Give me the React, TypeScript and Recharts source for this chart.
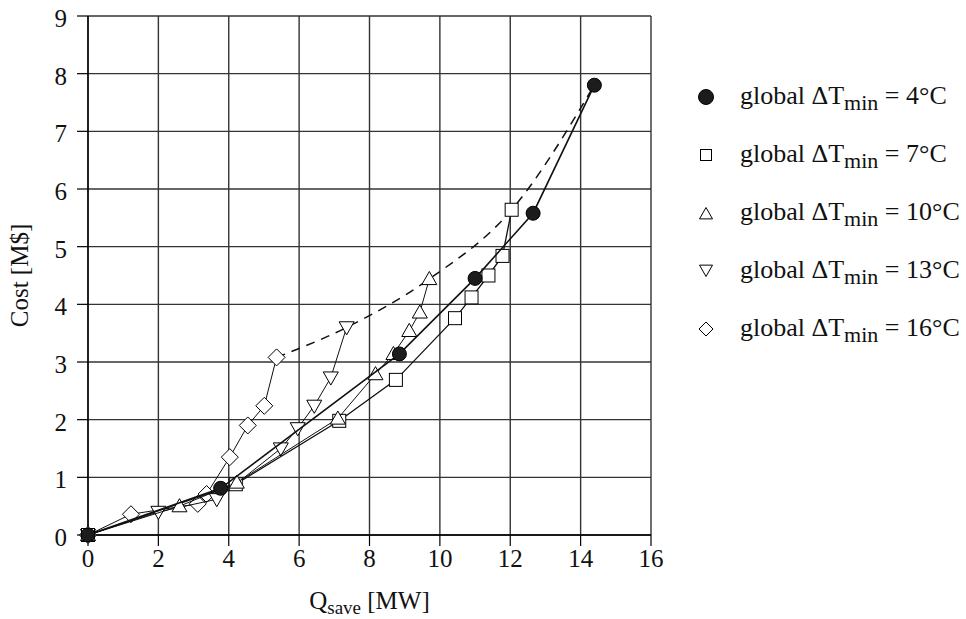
import { ScatterChart, Scatter, XAxis, YAxis, CartesianGrid, Label } from "recharts";

// Q_save [MW] and cost [M$] per global ΔTmin
const q4 = [0, 3.77, 8.85, 11.0, 12.65, 14.39];
const cost4 = [0, 0.81, 3.14, 4.45, 5.58, 7.8];

const q7 = [0, 4.2, 7.14, 8.75, 10.43, 10.9, 11.38, 11.78, 12.04];
const cost7 = [0, 0.88, 1.98, 2.69, 3.76, 4.12, 4.5, 4.84, 5.64];

const q10 = [0, 2.6, 4.23, 7.1, 8.17, 8.68, 9.13, 9.43, 9.7];
const cost10 = [0, 0.5, 0.91, 2.02, 2.79, 3.14, 3.54, 3.86, 4.44];

const q13 = [0, 2.0, 3.66, 5.48, 5.96, 6.43, 6.9, 7.35];
const cost13 = [0, 0.4, 0.62, 1.5, 1.85, 2.24, 2.73, 3.6];

const q16 = [0, 1.22, 3.12, 3.37, 4.03, 4.54, 5.01, 5.36];
const cost16 = [0, 0.36, 0.54, 0.71, 1.35, 1.9, 2.24, 3.08];

// dashed envelope through the end point of each curve
const qEnvelope = [5.36, 7.35, 9.7, 12.04, 14.39];
const costEnvelope = [3.08, 3.6, 4.44, 5.64, 7.8];

const xTicks = [0, 2, 4, 6, 8, 10, 12, 14, 16];
const yTicks = [0, 1, 2, 3, 4, 5, 6, 7, 8, 9];
const legendTemps = [4, 7, 10, 13, 16];

const FONT = '"Liberation Serif", "DejaVu Serif", serif';

const toPoints = (q: number[], cost: number[]) => q.map((v, i) => ({ q: v, cost: cost[i] }));

function CircleDot({ cx, cy, r = 7 }: any) {
  return <circle cx={cx} cy={cy} r={r} fill="#1c1c1c" stroke="#000" strokeWidth={1} />;
}
function SquareDot({ cx, cy, s = 6.5 }: any) {
  return <rect x={cx - s} y={cy - s} width={2 * s} height={2 * s} fill="#fff" stroke="#000" strokeWidth={1} />;
}
function TriUpDot({ cx, cy, s = 7.5 }: any) {
  return (
    <polygon
      points={`${cx},${cy - s} ${cx + s},${cy + s * 0.75} ${cx - s},${cy + s * 0.75}`}
      fill="#fff"
      stroke="#000"
      strokeWidth={1}
    />
  );
}
function TriDownDot({ cx, cy, s = 7.5 }: any) {
  return (
    <polygon
      points={`${cx - s},${cy - s * 0.75} ${cx + s},${cy - s * 0.75} ${cx},${cy + s}`}
      fill="#fff"
      stroke="#000"
      strokeWidth={1}
    />
  );
}
function DiamondDot({ cx, cy, s = 8.5 }: any) {
  return (
    <polygon
      points={`${cx},${cy - s} ${cx + s},${cy} ${cx},${cy + s} ${cx - s},${cy}`}
      fill="#fff"
      stroke="#000"
      strokeWidth={1}
    />
  );
}
const NoDot = () => <g />;

const legendMarkers = [
  <CircleDot cx={10} cy={10} r={7.5} />,
  <SquareDot cx={10} cy={10} s={5.5} />,
  <TriUpDot cx={10} cy={11} s={6.5} />,
  <TriDownDot cx={10} cy={9} s={6.5} />,
  <DiamondDot cx={10} cy={10} s={7} />,
];

function XTick({ x, y, payload }: any) {
  return (
    <text x={x} y={y + 17} textAnchor="middle" fontFamily={FONT} fontSize={25} fill="#111">
      {payload.value}
    </text>
  );
}

function YTick({ x, y, payload }: any) {
  return (
    <text x={x} y={y + 11} textAnchor="end" fontFamily={FONT} fontSize={25} fill="#111">
      {payload.value}
    </text>
  );
}

function XTitle({ viewBox }: any) {
  const cx = viewBox.x + viewBox.width / 2;
  return (
    <text x={cx} y={viewBox.y + 74} textAnchor="middle" fontFamily={FONT} fontSize={25} fill="#111">
      Q<tspan fontSize={19} dy={5}>save</tspan>
      <tspan dy={-5}> [MW]</tspan>
    </text>
  );
}

function YTitle({ viewBox }: any) {
  const cy = viewBox.y + viewBox.height / 2;
  const x = 28;
  return (
    <text
      x={x}
      y={cy}
      transform={`rotate(-90 ${x} ${cy})`}
      textAnchor="middle"
      fontFamily={FONT}
      fontSize={25}
      fill="#111"
    >
      Cost [M$]
    </text>
  );
}

function Legend() {
  return (
    <div style={{ position: "absolute", left: 0, top: 0, fontFamily: FONT, color: "#111" }}>
      {legendTemps.map((t, i) => {
        const rowY = 97 + i * 58;
        return (
          <div key={t}>
            <svg width={20} height={20} style={{ position: "absolute", left: 696, top: rowY - 10 }}>
              {legendMarkers[i]}
            </svg>
            <div
              style={{
                position: "absolute",
                left: 740,
                top: rowY - 16,
                fontSize: 26,
                lineHeight: "30px",
                whiteSpace: "nowrap",
              }}
            >
              global ΔT
              <span style={{ fontSize: 22, position: "relative", top: 6 }}>min</span> = {t}°C
            </div>
          </div>
        );
      })}
    </div>
  );
}

export default function App() {
  return (
    <div
      style={{
        position: "absolute",
        left: 0,
        top: 0,
        width: 966,
        height: 619,
        background: "#fff",
        fontFamily: FONT,
      }}
    >
      <ScatterChart width={966} height={619} margin={{ top: 16, right: 315, bottom: 0, left: 0 }}>
        <CartesianGrid stroke="#333" strokeWidth={1.4} />
        <XAxis
          type="number"
          dataKey="q"
          domain={[0, 16]}
          ticks={xTicks}
          interval={0}
          height={84}
          tickSize={11}
          tickMargin={4}
          tick={<XTick />}
          axisLine={{ stroke: "#000", strokeWidth: 1.4 }}
          tickLine={{ stroke: "#000", strokeWidth: 1.2 }}
        >
          <Label content={<XTitle />} />
        </XAxis>
        <YAxis
          type="number"
          dataKey="cost"
          domain={[0, 9]}
          ticks={yTicks}
          interval={0}
          width={88}
          tickSize={11}
          tickMargin={10}
          tick={<YTick />}
          axisLine={{ stroke: "#000", strokeWidth: 1.4 }}
          tickLine={{ stroke: "#000", strokeWidth: 1.2 }}
        >
          <Label content={<YTitle />} />
        </YAxis>

        <Scatter
          data={toPoints(qEnvelope, costEnvelope)}
          shape={<NoDot />}
          line={{ stroke: "#111", strokeWidth: 1.5, strokeDasharray: "9 7" }}
          lineJointType="monotoneX"
          isAnimationActive={false}
        />
        <Scatter
          data={toPoints(q16, cost16)}
          shape={<DiamondDot />}
          line={{ stroke: "#111", strokeWidth: 1 }}
          isAnimationActive={false}
        />
        <Scatter
          data={toPoints(q13, cost13)}
          shape={<TriDownDot />}
          line={{ stroke: "#111", strokeWidth: 1 }}
          isAnimationActive={false}
        />
        <Scatter
          data={toPoints(q7, cost7)}
          shape={<SquareDot />}
          line={{ stroke: "#111", strokeWidth: 1.3 }}
          isAnimationActive={false}
        />
        <Scatter
          data={toPoints(q10, cost10)}
          shape={<TriUpDot />}
          line={{ stroke: "#111", strokeWidth: 1 }}
          isAnimationActive={false}
        />
        <Scatter
          data={toPoints(q4, cost4)}
          shape={<CircleDot />}
          line={{ stroke: "#111", strokeWidth: 1.6 }}
          isAnimationActive={false}
        />
      </ScatterChart>
      <Legend />
    </div>
  );
}
